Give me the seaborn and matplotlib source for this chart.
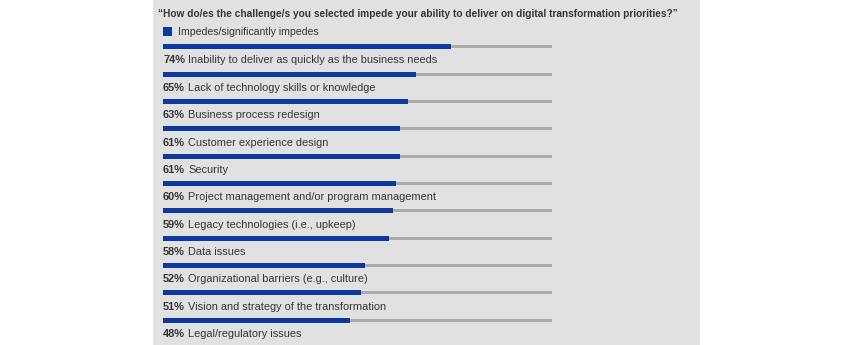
import matplotlib
matplotlib.use("Agg")
import matplotlib.pyplot as plt
import seaborn as sns
import pandas as pd
from matplotlib.patches import Rectangle

sns.set_theme(style="white")
plt.rcParams['font.family'] = ['Liberation Sans', 'DejaVu Sans']

title = "\u201cHow do/es the challenge/s you selected impede your ability to deliver on digital transformation priorities?\u201d"
legend_label = "Impedes/significantly impedes"
categories = [
    "Inability to deliver as quickly as the business needs",
    "Lack of technology skills or knowledge",
    "Business process redesign",
    "Customer experience design",
    "Security",
    "Project management and/or program management",
    "Legacy technologies (i.e., upkeep)",
    "Data issues",
    "Organizational barriers (e.g., culture)",
    "Vision and strategy of the transformation",
    "Legal/regulatory issues",
]
values = [74, 65, 63, 61, 61, 60, 59, 58, 52, 51, 48]
track_total = [100] * len(values)

BLUE = "#0b3a9c"
GRAY = "#ababab"
BG = "#e1e1e1"
TXT = "#363636"

W, H = 844, 345
fig = plt.figure(figsize=(W / 100, H / 100), dpi=100)
fig.patch.set_facecolor("white")
fig.patches.append(Rectangle((153 / W, 0), (700 - 153) / W, 1, transform=fig.transFigure,
                             facecolor=BG, edgecolor="none", zorder=-5))

ax = fig.add_axes([0, 0, 1, 1])
ax.patch.set_alpha(0)

df = pd.DataFrame({"cat": categories, "val": values, "total": track_total})
sns.barplot(data=df, y="cat", x="total", orient="h", color=GRAY, width=0.11,
            saturation=1, linewidth=0, ax=ax)
sns.barplot(data=df, y="cat", x="val", orient="h", color=BLUE, width=0.18,
            saturation=1, linewidth=0, ax=ax)

x0, scale = 163, 3.89
y0, step = 46.8, 27.35
ax.set_xlim(-x0 / scale, (W - x0) / scale)
ax.set_ylim((H - y0) / step, -y0 / step)
ax.axis("off")

fs = 7.9
fig.text(158 / W, 1 - 14 / H, title, fontsize=7.3, fontweight="bold", color=TXT,
         va="center", ha="left")
fig.patches.append(Rectangle((163 / W, 1 - 36 / H), 9 / W, 9 / H, transform=fig.transFigure,
                             facecolor=BLUE, edgecolor="none"))
fig.text(178 / W, 1 - 32 / H, legend_label, fontsize=7.6, color=TXT, va="center", ha="left")

fig.canvas.draw()
renderer = fig.canvas.get_renderer()
for i, (c, v) in enumerate(zip(categories, values)):
    t = ax.text(0, i + 0.5, f"{v}%", fontsize=fs, fontweight="bold", color=TXT,
                va="center", ha="left")
    bb = t.get_window_extent(renderer=renderer)
    xr = ax.transData.inverted().transform((bb.x1 + 3, 0))[0]
    ax.text(xr, i + 0.5, c, fontsize=fs, color=TXT, va="center", ha="left")

fig.savefig("out.png", dpi=100)
